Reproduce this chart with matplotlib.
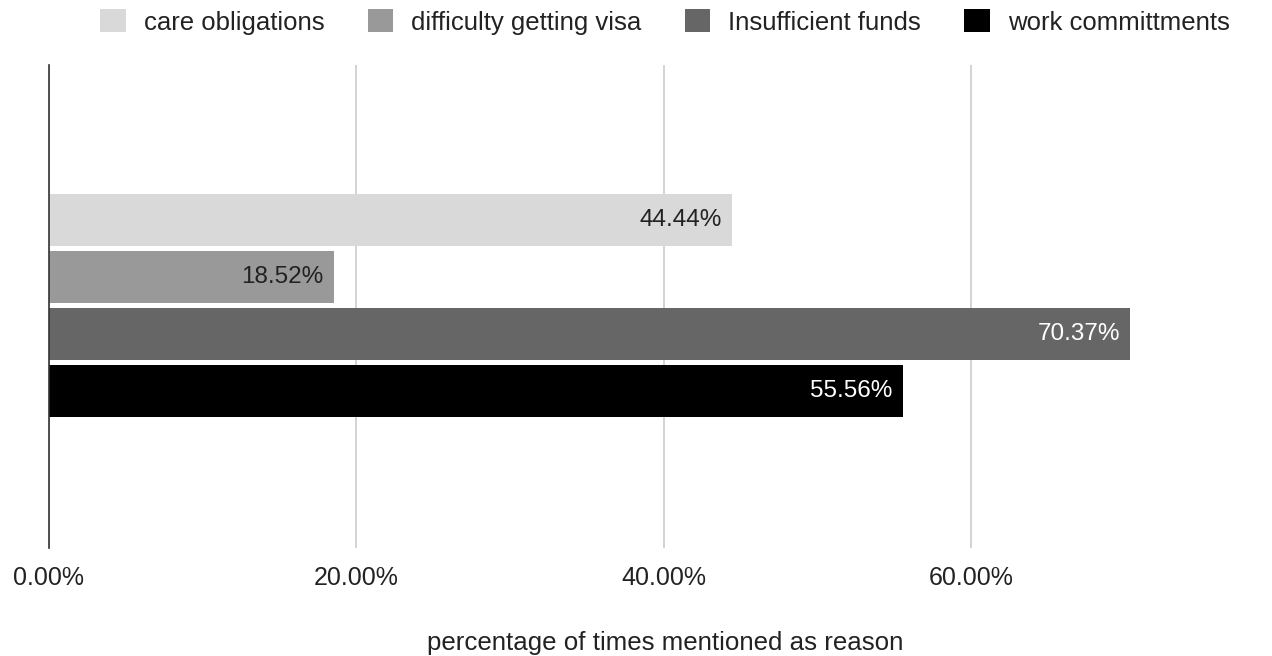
import matplotlib
matplotlib.use("Agg")
import matplotlib.pyplot as plt
from matplotlib.patches import Patch

plt.rcParams['font.family'] = ['Liberation Sans', 'DejaVu Sans']

series = ["care obligations", "difficulty getting visa", "Insufficient funds", "work committments"]
values = [44.44, 18.52, 70.37, 55.56]
colors = ["#d9d9d9", "#999999", "#666666", "#000000"]
label_colors = ["#222222", "#222222", "#ffffff", "#ffffff"]
xticks = [0, 20, 40, 60]
xtick_labels = ["0.00%", "20.00%", "40.00%", "60.00%"]
xlabel = "percentage of times mentioned as reason"

W, H = 1272, 656
fig = plt.figure(figsize=(W / 100, H / 100), dpi=100)
left_px, right_px, top_px, bot_px = 49, 1230, 65, 548
ax = fig.add_axes([left_px / W, 1 - bot_px / H, (right_px - left_px) / W, (bot_px - top_px) / H])

px_per_unit = (971 - 49) / 60.0
ax.set_xlim(0, (right_px - left_px) / px_per_unit)
ax.set_ylim(3 + 157 / 57, -155 / 57)

pos = list(range(len(series)))
bars = ax.barh(pos, values, height=52 / 57, color=colors, zorder=3)

for b, v, lc in zip(bars, values, label_colors):
    ax.annotate(f"{v:.2f}%", xy=(v, b.get_y() + b.get_height() / 2),
                xytext=(-10, 0), textcoords="offset pixels",
                ha="right", va="center", fontsize=17.5, color=lc, zorder=4)

ax.set_xticks(xticks)
ax.set_xticklabels(xtick_labels, fontsize=18, color="#222222")
ax.tick_params(axis="x", length=0, pad=13)
ax.set_yticks([])
for s in ["top", "right", "bottom"]:
    ax.spines[s].set_visible(False)
ax.spines["left"].set_color("#333333")
ax.spines["left"].set_linewidth(1.2)
ax.spines["left"].set_zorder(5)
ax.grid(axis="x", color="#cccccc", linewidth=1.2, zorder=0)
ax.set_axisbelow(True)
ax.set_xlabel(xlabel, fontsize=18.6, color="#222222")
ax.xaxis.set_label_coords((665 - left_px) / (right_px - left_px), -(643 - bot_px) / (bot_px - top_px))
ax.xaxis.label.set_va("center")

handles = [Patch(facecolor=c, edgecolor="none") for c in colors]
fig.legend(handles, series, loc="center", bbox_to_anchor=(665 / W, 1 - 22 / H),
           ncol=4, frameon=False, fontsize=18.5, handlelength=1.0, handleheight=1.0,
           columnspacing=1.68, handletextpad=0.7, labelcolor="#222222",
           borderpad=0, borderaxespad=0)

fig.savefig("out.png", dpi=100, facecolor="white")
